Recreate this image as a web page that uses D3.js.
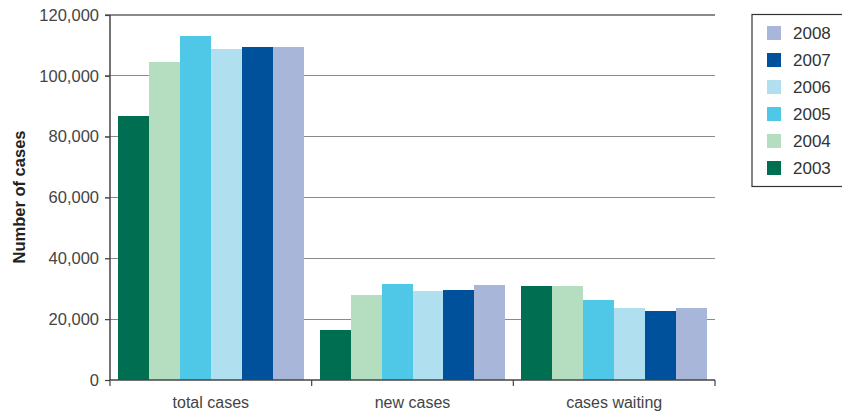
<!DOCTYPE html>
<html><head><meta charset="utf-8">
<script src="https://cdn.jsdelivr.net/npm/d3@7"></script>
<style>body{margin:0;background:#fff}svg{display:block;font-family:"Liberation Sans",Arial,sans-serif}</style>
</head><body><svg id="c" width="842" height="412"></svg>
<script>
const categories = ["total cases", "new cases", "cases waiting"];
const years = ["2003", "2004", "2005", "2006", "2007", "2008"];
const v2003 = [86800, 16400, 30900];
const v2004 = [104500, 27900, 30900];
const v2005 = [113100, 31600, 26300];
const v2006 = [108800, 29300, 23700];
const v2007 = [109500, 29600, 22700];
const v2008 = [109500, 31200, 23700];
const yTicks = [0, 20000, 40000, 60000, 80000, 100000, 120000];
const colors = ["#006f51", "#b5dec0", "#4ec8e6", "#b0e0f0", "#00519b", "#a8b6d9"];
const series = [v2003, v2004, v2005, v2006, v2007, v2008];

(function () {
const svg = d3.select("#c");
const mLeft = 110, mRight = 715, mTop = 15, mBottom = 380;
const x0 = d3.scaleBand().domain(categories).range([mLeft, mRight]).padding(0);
const x1 = d3.scaleBand().domain(years).range([8, x0.bandwidth() - 8]).padding(0);
const y = d3.scaleLinear().domain([0, 120000]).range([mBottom, mTop]);
const color = d3.scaleOrdinal().domain(years).range(colors);

// gridlines
svg.append("g").selectAll("line").data(yTicks.filter(d => d > 0)).join("line")
  .attr("x1", mLeft - 5).attr("x2", mRight).attr("y1", d => y(d)).attr("y2", d => y(d))
  .attr("stroke", "#8a8a8a").attr("stroke-width", 1.2).attr("shape-rendering", "crispEdges");

// bars
const g = svg.append("g");
years.forEach((yr, i) => {
  g.append("g").selectAll("rect").data(categories).join("rect")
    .attr("x", (c) => x0(c) + x1(yr))
    .attr("width", x1.bandwidth())
    .attr("y", (c, j) => y(series[i][j]))
    .attr("height", (c, j) => mBottom - y(series[i][j]))
    .attr("fill", color(yr))
    .attr("shape-rendering", "crispEdges");
});

// y axis
const ya = svg.append("g").attr("transform", `translate(${mLeft},0)`)
  .call(d3.axisLeft(y).tickValues(yTicks).tickSize(5).tickPadding(6).tickFormat(d3.format(",")));
ya.select(".domain").attr("stroke", "#444").attr("stroke-width", 1.5).attr("d", `M0,${mTop}V${mBottom}`);
ya.selectAll(".tick line").attr("stroke", "#444").attr("stroke-width", 1.2);
ya.selectAll("text").attr("font-size", 16.5).attr("fill", "#444").attr("font-family", "Liberation Sans, Arial, sans-serif");

// x axis
const xa = svg.append("g").attr("transform", `translate(0,${mBottom})`);
xa.append("line").attr("x1", mLeft).attr("x2", mRight).attr("y1", 0).attr("y2", 0)
  .attr("stroke", "#444").attr("stroke-width", 1.5);
const bounds = [mLeft, ...categories.map(c => x0(c) + x0.bandwidth())];
xa.selectAll("line.tk").data(bounds).join("line").attr("class", "tk")
  .attr("x1", d => d).attr("x2", d => d).attr("y1", 0).attr("y2", 6)
  .attr("stroke", "#444").attr("stroke-width", 1.2);
xa.selectAll("text").data(categories).join("text")
  .attr("x", c => x0(c) + x0.bandwidth() / 2).attr("y", 27.5)
  .attr("text-anchor", "middle").attr("font-size", 16).attr("fill", "#444").text(c => c);

// y label
svg.append("text").attr("transform", "translate(24.5,197) rotate(-90)")
  .attr("text-anchor", "middle").attr("font-size", 16.5).attr("font-weight", "bold").attr("fill", "#222")
  .text("Number of cases");

// legend
const lg = svg.append("g");
lg.append("rect").attr("x", 752).attr("y", 14.5).attr("width", 120).attr("height", 172)
  .attr("fill", "none").attr("stroke", "#333").attr("stroke-width", 1.2);
const legYears = years.slice().reverse();
const li = lg.selectAll("g.it").data(legYears).join("g").attr("class", "it")
  .attr("transform", (d, i) => `translate(767,${26 + i * 27})`);
li.append("rect").attr("width", 14).attr("height", 14).attr("fill", d => color(d));
li.append("text").attr("x", 26).attr("y", 13).attr("font-size", 17).attr("fill", "#333").text(d => d);
})();
</script></body></html>
